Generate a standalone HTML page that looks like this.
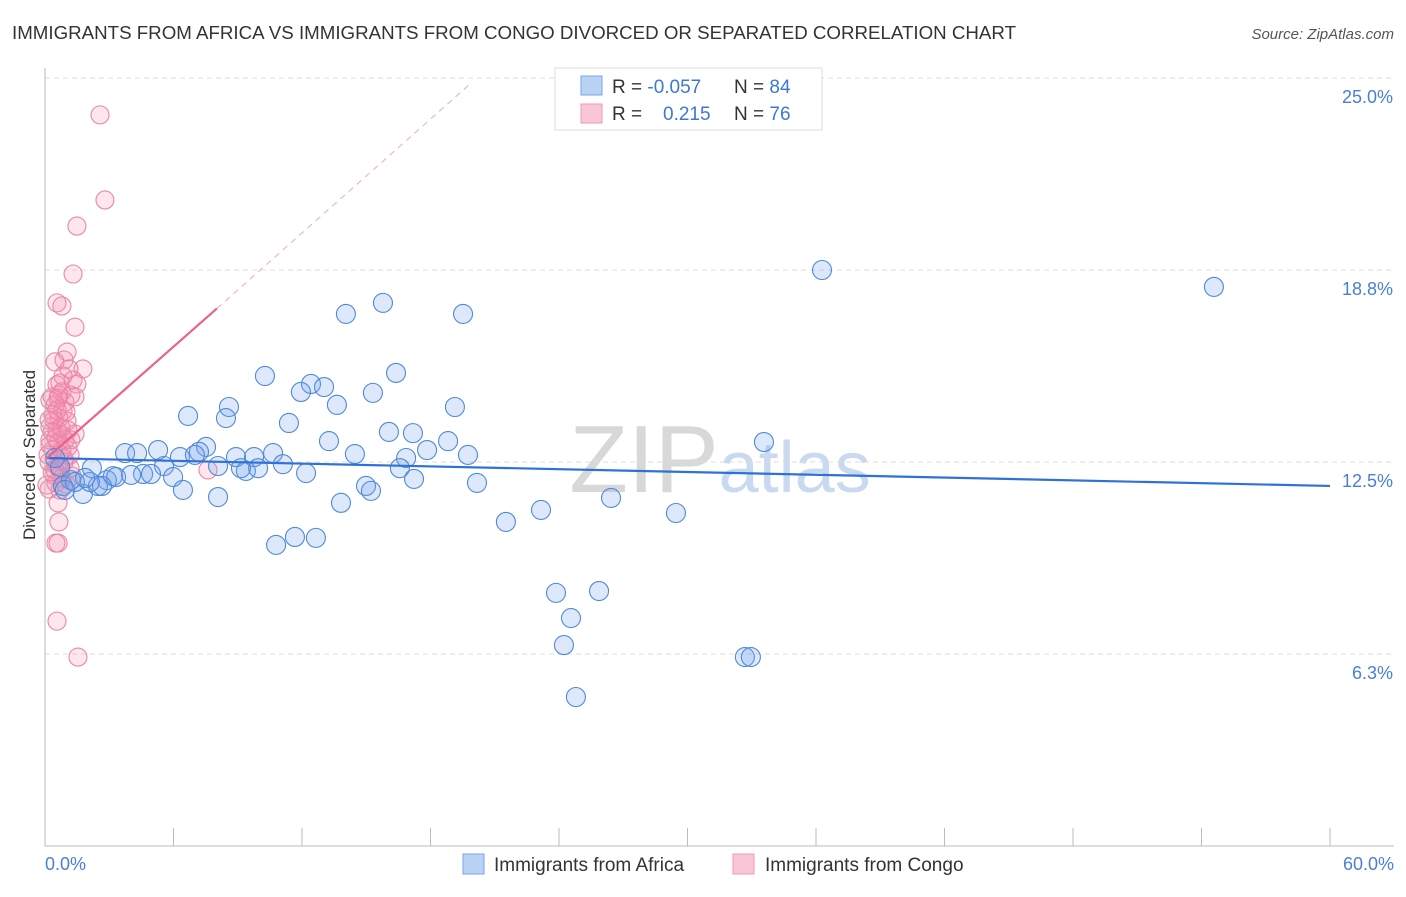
<!DOCTYPE html>
<html><head><meta charset="utf-8"><style>
body{margin:0;background:#fff;font-family:"Liberation Sans",sans-serif;}
svg text{font-family:"Liberation Sans",sans-serif;}
</style></head><body>
<svg id="chart" width="1406" height="892">
<text x="12" y="39" font-size="18" fill="#333" textLength="1004" lengthAdjust="spacingAndGlyphs">IMMIGRANTS FROM AFRICA VS IMMIGRANTS FROM CONGO DIVORCED OR SEPARATED CORRELATION CHART</text>
<text x="1394" y="39" font-size="15" fill="#555" font-style="italic" text-anchor="end">Source: ZipAtlas.com</text>
<text x="720" y="492" font-size="96" fill="#ddd" text-anchor="middle" font-family="Liberation Serif"><tspan fill="#d8d8d8">ZIP</tspan><tspan fill="#c9d9ef" font-family="Liberation Sans" font-size="72">atlas</tspan></text>
<g id="grid"></g><g id="marks"></g>
<line x1="45" y1="68" x2="45" y2="846" stroke="#bbb"/>
<line x1="45" y1="846" x2="1394" y2="846" stroke="#bbb"/>
<text x="35" y="455" font-size="17" fill="#333" text-anchor="middle" transform="rotate(-90 35 455)">Divorced or Separated</text>
<text x="45" y="870" font-size="18" fill="#4a7fd6">0.0%</text>
<text x="1394" y="870" font-size="18" fill="#4a7fd6" text-anchor="end">60.0%</text>
<g>
<rect x="555" y="68" width="267" height="62" fill="#fff" stroke="#ddd"/>
<rect x="581" y="76" width="21" height="19" fill="#b9d3f5" stroke="#7aa6e4"/>
<rect x="581" y="104" width="21" height="19" fill="#f9c6d5" stroke="#ee9ab5"/>
<text x="612" y="93" font-size="19" fill="#333">R = <tspan fill="#3b78d8">-0.057</tspan></text>
<text x="734" y="93" font-size="19" fill="#333">N = <tspan fill="#3b78d8">84</tspan></text>
<text x="612" y="120" font-size="19" fill="#333">R = <tspan fill="#3b78d8" x="663">0.215</tspan></text>
<text x="734" y="120" font-size="19" fill="#333">N = <tspan fill="#3b78d8">76</tspan></text>
</g>
<g>
<rect x="463" y="854" width="21" height="20" fill="#b9d3f5" stroke="#7aa6e4"/>
<text x="494" y="871" font-size="19" fill="#333">Immigrants from Africa</text>
<rect x="733" y="854" width="21" height="20" fill="#f9c6d5" stroke="#ee9ab5"/>
<text x="765" y="871" font-size="19" fill="#333">Immigrants from Congo</text>
</g>
</svg>
<script>
const yTicks=[6.25,12.5,18.75,25.0];
const yTickLabels=["6.3%","12.5%","18.8%","25.0%"];
const xTicks=[0,6,12,18,24,30,36,42,48,54,60];
const africaX=[36.28,54.58,14.05,15.78,19.52,16.39,10.27,12.42,13.03,11.95,15.31,13.63,8.59,19.14,6.68,8.45,11.39,16.06,17.18,13.26,18.82,33.57,7.52,17.84,3.74,4.30,5.28,7.19,14.47,19.75,6.30,8.92,9.76,10.65,7.00,16.86,5.56,8.08,9.38,11.11,9.95,9.15,16.57,4.58,4.95,5.98,3.17,2.89,3.32,4.02,12.19,17.23,14.99,20.17,15.22,0.84,1.21,1.77,2.47,2.66,2.10,2.19,6.44,8.08,13.82,26.43,23.16,21.52,29.46,10.79,11.67,12.65,23.86,25.87,24.56,24.23,32.68,32.96,24.79,0.70,0.47,1.40,1.87,0.93];
const africaY=[18.75,18.20,17.32,17.68,17.32,15.40,15.30,15.04,14.94,14.78,14.75,14.36,14.29,14.29,14.00,13.93,13.77,13.48,13.44,13.18,13.18,13.15,12.99,12.89,12.79,12.79,12.89,12.83,12.76,12.73,12.66,12.66,12.66,12.79,12.73,12.63,12.37,12.37,12.21,12.43,12.30,12.30,12.30,12.11,12.11,12.01,12.04,11.91,12.01,12.08,12.14,11.95,11.72,11.82,11.56,11.72,11.91,11.46,11.72,11.72,11.85,12.30,11.59,11.36,11.17,11.33,10.94,10.55,10.84,9.80,10.06,10.03,8.24,8.30,7.42,6.54,6.15,6.15,4.85,12.34,12.63,11.85,11.98,11.59];
const congoX=[2.57,2.80,1.49,1.31,0.56,0.79,1.40,1.03,0.89,0.47,1.77,1.12,0.70,0.56,1.49,0.79,1.21,0.33,1.40,0.93,0.47,0.84,0.65,0.42,1.03,0.23,0.56,1.40,0.79,0.23,0.61,1.07,0.37,0.70,0.89,0.19,0.56,1.17,0.33,0.79,1.26,0.51,0.19,0.70,0.98,0.61,0.65,0.51,0.61,0.56,1.54,7.61,0.23,0.93,0.47,1.17,0.14,0.75,0.37,0.98,0.65,1.31,0.23,0.51,0.79,0.09,0.42,1.07,0.33,0.70,0.89,0.56,0.19,1.21,0.61,0.84];
const congoY=[23.80,21.03,20.18,18.62,17.68,17.58,16.89,16.08,15.82,15.76,15.53,15.53,15.07,15.01,15.04,14.78,14.68,14.62,14.62,14.45,14.36,14.16,13.93,13.87,13.83,13.64,13.54,13.41,13.38,13.22,13.12,12.99,12.89,12.73,12.60,12.50,12.37,12.30,12.17,11.98,12.04,11.82,11.62,11.59,11.78,11.17,10.55,9.86,9.86,7.32,6.15,12.24,14.52,13.22,12.24,12.73,12.73,13.61,14.03,14.13,14.68,15.17,13.05,13.28,12.89,11.75,12.08,13.54,13.48,12.24,12.50,14.19,13.87,13.22,14.58,15.30];
const africaTrend=[[0,12.63],[60,11.72]];
const congoTrendSolid=[[0,12.57],[8.03,17.5]];
const congoTrendDash=[[8.03,17.5],[19.84,24.8]];

const NS="http://www.w3.org/2000/svg";
const X=v=>45+v*(1285/60);
const Y=v=>462-(v-12.5)*30.72;
function mk(tag,attrs,parent){const e=document.createElementNS(NS,tag);for(const k in attrs)e.setAttribute(k,attrs[k]);parent.appendChild(e);return e;}
const grid=document.getElementById('grid'),marks=document.getElementById('marks');
yTicks.forEach((t,i)=>{
  const l=mk('line',{x1:45,x2:1394,y1:Y(t),y2:Y(t),stroke:'#ddd','stroke-dasharray':'5,4'},grid);
  
  
  const tx=mk('text',{x:1393,y:Y(t)+25,'font-size':18,fill:'#4a7fd6','text-anchor':'end'},grid);
  tx.textContent=yTickLabels[i];
  
  
});
xTicks.forEach(t=>{
  const l=mk('line',{x1:X(t),x2:X(t),y1:828,y2:846,stroke:'#bbb'},grid);
  
  
});
congoX.forEach((x,i)=>{
  const c=mk('circle',{cx:X(x),cy:Y(congoY[i]),r:9,fill:'rgba(244,143,177,0.22)',stroke:'#ec86a6','stroke-width':1.1},marks);
  
  
});
africaX.forEach((x,i)=>{
  const c=mk('circle',{cx:X(x),cy:Y(africaY[i]),r:9.5,fill:'rgba(120,165,235,0.25)',stroke:'#4f8ad9','stroke-width':1.1},marks);
  
  
});
let l=mk('line',{x1:X(africaTrend[0][0]),y1:Y(africaTrend[0][1]),x2:X(africaTrend[1][0]),y2:Y(africaTrend[1][1]),stroke:'#2f72d6','stroke-width':2.2},marks);


l=mk('line',{x1:X(congoTrendSolid[0][0]),y1:Y(congoTrendSolid[0][1]),x2:X(congoTrendSolid[1][0]),y2:Y(congoTrendSolid[1][1]),stroke:'#e8638e','stroke-width':2.2},marks);


l=mk('line',{x1:X(congoTrendDash[0][0]),y1:Y(congoTrendDash[0][1]),x2:X(congoTrendDash[1][0]),y2:Y(congoTrendDash[1][1]),stroke:'#f0a8bf','stroke-width':1,'stroke-dasharray':'6,5'},marks);


</script>
</body></html>
